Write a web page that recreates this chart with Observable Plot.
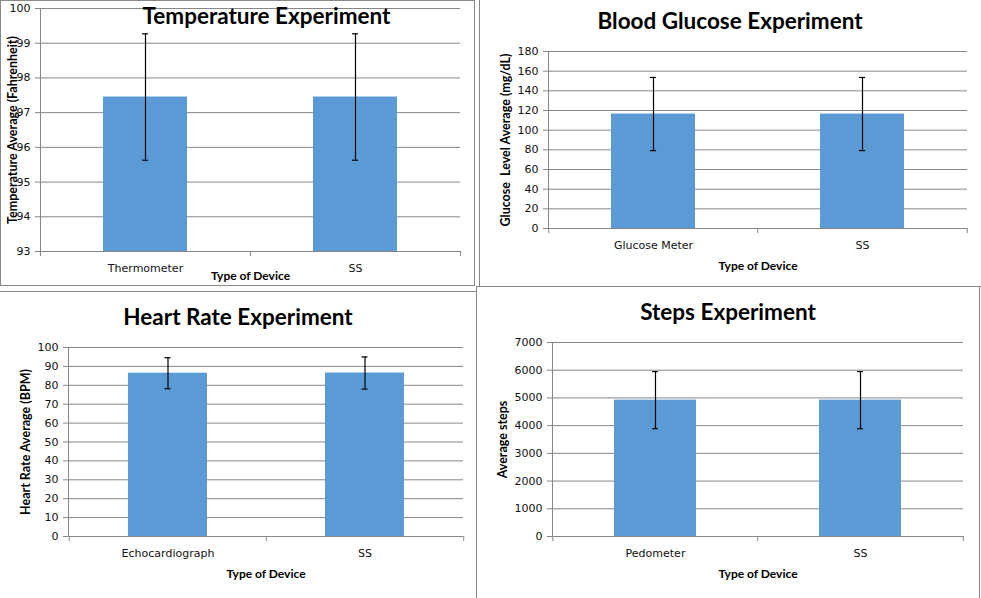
<!DOCTYPE html>
<html>
<head>
<meta charset="utf-8">
<script src="https://cdn.jsdelivr.net/npm/d3@7"></script>
<script src="https://cdn.jsdelivr.net/npm/@observablehq/plot@0.6"></script>
<style>
  html, body { margin: 0; padding: 0; background: #fff; }
  body { width: 981px; height: 598px; position: relative; overflow: hidden; }
  .box { position: absolute; border: 1px solid #888; box-sizing: border-box; background: #fff; }
  .chart { position: absolute; }
  .chart svg { display: block; overflow: visible; }
</style>
</head>
<body>
<script>
// ---------- data ----------
const tempDevices = ["Thermometer", "SS"];
const tempMeans = [97.45, 97.45];
const tempErrors = [1.82, 1.82];
const tempTicks = [93, 94, 95, 96, 97, 98, 99, 100];

const glucoseDevices = ["Glucose Meter", "SS"];
const glucoseMeans = [116.4, 116.4];
const glucoseErrors = [37.2, 37.2];
const glucoseTicks = [0, 20, 40, 60, 80, 100, 120, 140, 160, 180];

const heartDevices = ["Echocardiograph", "SS"];
const heartMeans = [86.4, 86.5];
const heartErrors = [8.2, 8.5];
const heartTicks = [0, 10, 20, 30, 40, 50, 60, 70, 80, 90, 100];

const stepsDevices = ["Pedometer", "SS"];
const stepsMeans = [4920, 4920];
const stepsErrors = [1030, 1030];
const stepsTicks = [0, 1000, 2000, 3000, 4000, 5000, 6000, 7000];

const titles = ["Temperature Experiment", "Blood Glucose Experiment", "Heart Rate Experiment", "Steps Experiment"];
const yLabels = ["Temperature Average (Fahrenheit)", "Glucose  Level Average (mg/dL)", "Heart Rate Average (BPM)", "Average steps"];
const xLabel = "Type of Device";

// ---------- layout ----------
const panels = [
  { devices: tempDevices, means: tempMeans, errors: tempErrors, ticks: tempTicks, title: titles[0], ylabel: yLabels[0],
    box: [0, 0, 475, 286], svg: [0, 0, 475, 286], margin: [8, 15, 35, 40],
    titleD: [16, 8], yLabelDx: -28, xLabelDy: 25 },
  { devices: glucoseDevices, means: glucoseMeans, errors: glucoseErrors, ticks: glucoseTicks, title: titles[1], ylabel: yLabels[1],
    box: [479, -1, 503, 288], svg: [479, 0, 502, 287], margin: [51, 14, 59, 69],
    titleD: [-28, -30], yLabelDx: -43, xLabelDy: 38 },
  { devices: heartDevices, means: heartMeans, errors: heartErrors, ticks: heartTicks, title: titles[2], ylabel: yLabels[2],
    box: [-1, 291, 478, 320], svg: [0, 291, 477, 307], margin: [56, 14, 62, 68],
    titleD: [-28, -30], yLabelDx: -43, xLabelDy: 38 },
  { devices: stepsDevices, means: stepsMeans, errors: stepsErrors, ticks: stepsTicks, title: titles[3], ylabel: yLabels[3],
    box: [476, 286, 504, 320], svg: [476, 286, 504, 312], margin: [56, 17, 62, 76],
    titleD: [-30, -30], yLabelDx: -50, xLabelDy: 38 }
];

const gray = "#868686";
const barColor = "#5B9BD5";

for (const p of panels) {
  const box = document.createElement("div");
  box.className = "box";
  Object.assign(box.style, { left: p.box[0] + "px", top: p.box[1] + "px", width: p.box[2] + "px", height: p.box[3] + "px" });
  document.body.appendChild(box);

  const data = p.devices.map((d, i) => ({ device: d, mean: p.means[i], err: p.errors[i] }));
  const [width, height] = [p.svg[2], p.svg[3]];
  const [mt, mr, mb, ml] = p.margin;
  const innerW = width - ml - mr;
  const step = innerW / p.devices.length;
  const bandwidth = step * 0.4;
  const capHalf = 3;
  const yMin = p.ticks[0];
  const yMax = p.ticks[p.ticks.length - 1];

  const chart = Plot.plot({
    width, height,
    marginTop: mt, marginRight: mr, marginBottom: mb, marginLeft: ml,
    style: { fontFamily: "'DejaVu Sans'", fontSize: "11px", color: "#111", background: "transparent" },
    x: { domain: p.devices, paddingInner: 0.6, paddingOuter: 0.3, axis: null },
    y: { domain: [yMin, yMax], axis: null },
    marks: [
      Plot.gridY(p.ticks, { stroke: gray, strokeOpacity: 1 }),
      Plot.barY(data, { x: "device", y1: () => yMin, y2: "mean", fill: barColor }),
      Plot.ruleY([yMin], { stroke: gray }),
      Plot.frame({ anchor: "left", stroke: gray }),
      Plot.axisY(p.ticks, { tickSize: 5, tickPadding: 5, tickFormat: d3.format("d"), stroke: gray, fill: "#111", label: null }),
      Plot.axisX({ tickSize: 0, tickPadding: 13, fill: "#111", label: null }),
      Plot.axisX({ tickSize: 5, tickFormat: () => "", dx: -step / 2, stroke: gray, label: null }),
      Plot.axisX([p.devices[p.devices.length - 1]], { tickSize: 5, tickFormat: () => "", dx: step / 2, stroke: gray, label: null }),
      Plot.ruleX(data, { x: "device", y1: d => d.mean - d.err, y2: d => d.mean + d.err, stroke: "#000", strokeWidth: 1.2 }),
      Plot.tickY(data, { x: "device", y: d => d.mean + d.err, stroke: "#000", strokeWidth: 1.2, insetLeft: bandwidth / 2 - capHalf, insetRight: bandwidth / 2 - capHalf }),
      Plot.tickY(data, { x: "device", y: d => d.mean - d.err, stroke: "#000", strokeWidth: 1.2, insetLeft: bandwidth / 2 - capHalf, insetRight: bandwidth / 2 - capHalf }),
      Plot.text([p.title], { text: d => d, frameAnchor: "top", lineAnchor: "middle", textAnchor: "middle", dx: p.titleD[0], dy: p.titleD[1], fontFamily: "Lato", fontWeight: "bold", fontSize: 22.5, fill: "#000" }),
      Plot.text([p.ylabel], { text: d => d, frameAnchor: "left", lineAnchor: "middle", textAnchor: "middle", dx: p.yLabelDx, rotate: -90, fontFamily: "Lato", fontWeight: "bold", fontSize: 12.5, fill: "#000" }),
      Plot.text([xLabel], { text: d => d, frameAnchor: "bottom", lineAnchor: "middle", textAnchor: "middle", dy: p.xLabelDy, fontFamily: "Lato", fontWeight: "bold", fontSize: 12, fill: "#000" })
    ]
  });
  const wrap = document.createElement("div");
  wrap.className = "chart";
  Object.assign(wrap.style, { left: p.svg[0] + "px", top: p.svg[1] + "px" });
  wrap.appendChild(chart);
  document.body.appendChild(wrap);
}
</script>
</body>
</html>
